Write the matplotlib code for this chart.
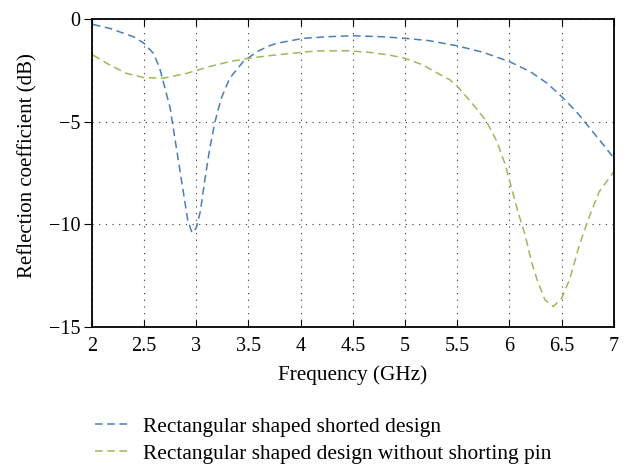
import matplotlib.pyplot as plt
from matplotlib.lines import Line2D

plt.rcParams['font.family'] = ['Liberation Serif', 'DejaVu Serif']

# shorted design (blue)
freq_a = [2.01, 2.17, 2.40, 2.50, 2.59, 2.65, 2.70, 2.75, 2.80, 2.84, 2.88, 2.92, 2.96,
          3.00, 3.04, 3.08, 3.13, 3.18, 3.24, 3.32, 3.45, 3.58, 3.70, 3.77, 4.02, 4.25,
          4.50, 4.79, 5.01, 5.23, 5.50, 5.75, 6.00, 6.20, 6.36, 6.50, 6.64, 6.77, 6.90, 7.00]
s11_a = [-0.26, -0.45, -0.86, -1.18, -1.67, -2.39, -3.36, -4.33, -5.96, -7.25, -8.54, -9.84, -10.41,
         -10.17, -9.35, -7.9, -6.28, -4.99, -3.85, -2.88, -2.07, -1.59, -1.30, -1.18, -0.94, -0.86,
         -0.81, -0.86, -0.94, -1.05, -1.3, -1.62, -2.07, -2.56, -3.12, -3.77, -4.5, -5.31, -6.12, -6.77]

# without shorting pin (green)
freq_b = [2.01, 2.17, 2.33, 2.50, 2.68, 2.91, 3.13, 3.32, 3.50, 3.70, 3.83, 4.15, 4.44,
          4.66, 4.85, 5.00, 5.17, 5.33, 5.43, 5.50, 5.65, 5.78, 5.88, 5.96, 6.02, 6.08,
          6.15, 6.21, 6.27, 6.34, 6.42, 6.50, 6.58, 6.67, 6.77, 6.86, 7.00]
s11_b = [-1.75, -2.23, -2.64, -2.85, -2.88, -2.64, -2.31, -2.07, -1.91, -1.78, -1.71, -1.55, -1.54,
         -1.62, -1.75, -1.91, -2.23, -2.69, -2.96, -3.26, -4.15, -4.98, -5.96, -7.09, -8.22, -9.36,
         -10.5, -11.8, -12.77, -13.67, -14.0, -13.6, -12.62, -11.0, -9.55, -8.4, -7.43]

labels = ['Rectangular shaped shorted design',
          'Rectangular shaped design without shorting pin']
colors = ['#4a7ebb', '#9bbb59']

fig = plt.figure(figsize=(6.27, 4.66), dpi=100)
ax = fig.add_axes([0.1465, 0.298, 0.8325, 0.661])

ax.plot(freq_a, s11_a, color=colors[0], lw=1.1, dashes=(5, 3))
ax.plot(freq_b, s11_b, color=colors[1], lw=1.1, dashes=(5, 3))

ax.set_xlim(2, 7)
ax.set_ylim(-15, 0)
ax.set_xticks([2, 2.5, 3, 3.5, 4, 4.5, 5, 5.5, 6, 6.5, 7])
ax.set_xticklabels(['2', '2.5', '3', '3.5', '4', '4.5', '5', '5.5', '6', '6.5', '7'])
ax.set_yticks([0, -5, -10, -15])
ax.set_yticklabels(['0', '\u22125', '\u221210', '\u221215'])
ax.grid(True, color='#333333', linestyle=(0, (1, 5)), lw=0.8)
ax.tick_params(axis='x', direction='in', top=True, length=5, labelsize=14.5, pad=7)
ax.tick_params(axis='y', direction='out', length=6, labelsize=14.5, pad=2)
for s in ax.spines.values():
    s.set_linewidth(1.3)

ax.set_xlabel('Frequency (GHz)', fontsize=15.3, labelpad=7)
ax.set_ylabel('Reflection coefficient (dB)', fontsize=15)
ax.yaxis.set_label_coords(-0.104, 0.523)

handles = [Line2D([], [], color=c, lw=1.1, dashes=(5, 3)) for c in colors]
fig.legend(handles, labels, loc='upper left', bbox_to_anchor=(0.1515, 0.106),
           frameon=False, fontsize=15.4, handlelength=1.64, handletextpad=0.6,
           labelspacing=0.33, borderaxespad=0, borderpad=0)

fig.savefig('out.png', dpi=100)
